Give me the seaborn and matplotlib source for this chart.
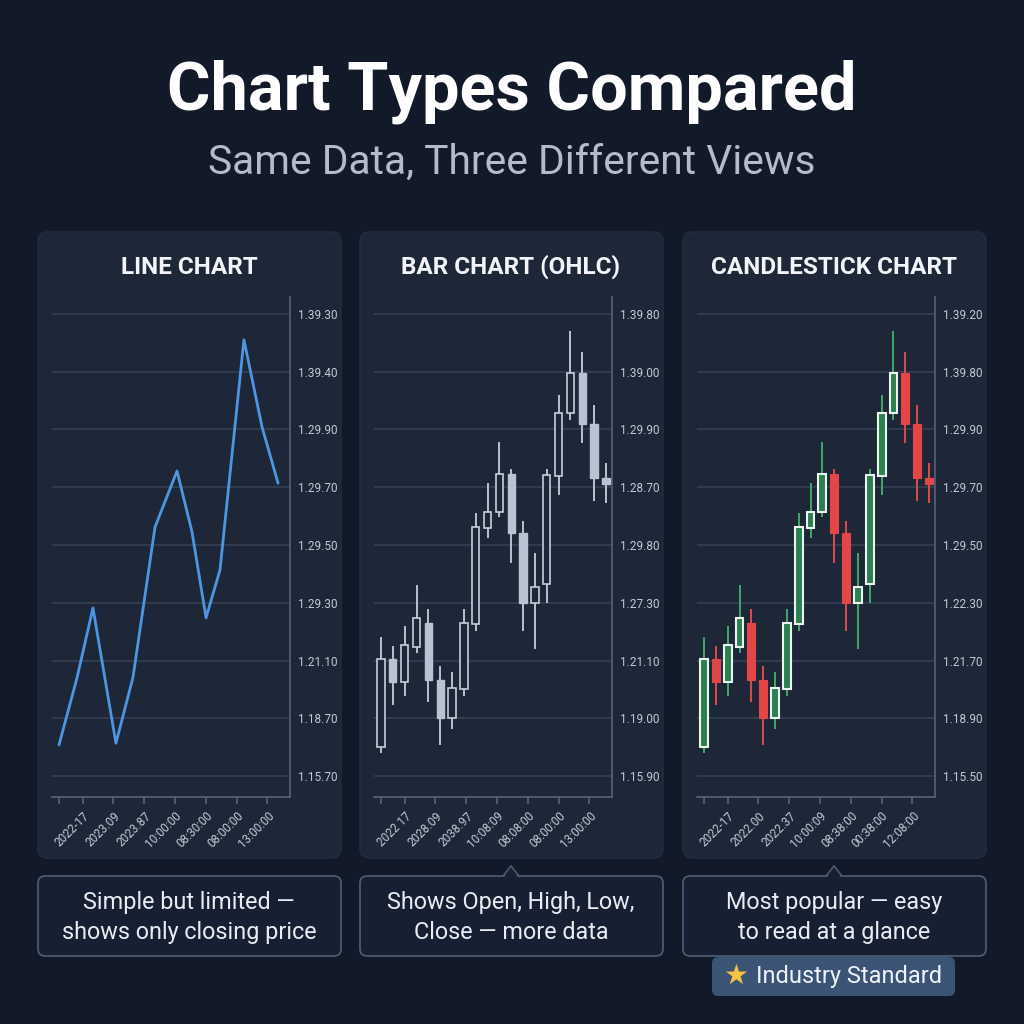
import numpy as np
import pandas as pd
import seaborn as sns
import matplotlib
matplotlib.use("Agg")
import matplotlib.pyplot as plt
from matplotlib.patches import FancyBboxPatch, Polygon

# ---- data (price in grid units, 0 = bottom gridline) ----
line_x = [0, 1.52, 2.87, 4.81, 6.25, 8.11, 9.97, 11.23, 12.42, 13.60, 15.62, 17.15, 18.50]
line_close = [0.54, 1.70, 2.91, 0.57, 1.71, 4.31, 5.28, 4.23, 2.74, 3.57, 7.55, 6.04, 5.07]

ohlc_open = [0.50, 2.03, 1.63, 2.23, 2.65, 1.66, 1.00, 1.51, 2.63, 4.29,
             4.57, 5.23, 4.21, 3.00, 3.32, 5.19, 6.29, 6.98, 6.10, 5.16]
ohlc_high = [2.41, 2.25, 2.60, 3.31, 2.89, 1.90, 1.80, 2.89, 4.55, 5.07,
             5.78, 5.32, 4.42, 3.86, 5.32, 6.60, 7.71, 7.34, 6.42, 5.42]
ohlc_low = [0.40, 1.23, 1.39, 2.13, 1.28, 0.54, 0.81, 1.39, 2.51, 4.12,
            4.48, 3.69, 2.51, 2.20, 3.00, 4.87, 6.16, 5.77, 4.76, 4.73]
ohlc_close = [2.03, 1.63, 2.27, 2.74, 1.66, 1.00, 1.52, 2.65, 4.31, 4.57,
              5.23, 4.21, 3.00, 3.27, 5.21, 6.29, 6.98, 6.10, 5.16, 5.06]

x_tick_pos = [0, 2.0, 4.6, 7.2, 9.8, 12.4, 15.0, 17.6]
x_labels_line = ["", "2022-17", "2023.09", "2023.87", "10:00:00", "08:30:00", "08:00:00", "13:00:00"]
x_labels_bar = ["", "2022 17", "2028.09", "2038.97", "10:08:09", "08:08:00", "08:00:00", "13:00:00"]
x_labels_candle = ["", "2022-17", "2022.00", "2022.37", "10:00:09", "08:38:00", "00:38:00", "12:08:00"]

y_labels_line = ["1.15.70", "1.18.70", "1.21.10", "1.29.30", "1.29.50", "1.29.70", "1.29.90", "1.39.40", "1.39.30"]
y_labels_bar = ["1.15.90", "1.19.00", "1.21.10", "1.27.30", "1.29.80", "1.28.70", "1.29.90", "1.39.00", "1.39.80"]
y_labels_candle = ["1.15.50", "1.18.90", "1.21.70", "1.22.30", "1.29.50", "1.29.70", "1.29.90", "1.39.80", "1.39.20"]

panel_titles = ["LINE CHART", "BAR CHART (OHLC)", "CANDLESTICK CHART"]
captions = ["Simple but limited —\nshows only closing price",
            "Shows Open, High, Low,\nClose — more data",
            "Most popular — easy\nto read at a glance"]

# ---- style ----
BG = "#121a29"
PANEL = "#1d2738"
GRID = "#364256"
SPINE = "#56637a"
TXT = "#f2f4f7"
TICK = "#c3cad5"

sns.set_theme(style="dark")
plt.rcParams["font.family"] = ["Roboto", "DejaVu Sans"]

fig = plt.figure(figsize=(10.24, 10.24), dpi=100, facecolor=BG)
W = H = 1024.0


def fx(px):
    return px / W


def fy(py):
    return 1 - py / H


fig.text(0.5, fy(92), "Chart Types Compared", ha="center", va="center",
         fontsize=48, fontweight="bold", color="#ffffff")
fig.text(0.5, fy(162), "Same Data, Three Different Views", ha="center", va="center",
         fontsize=29.3, color="#b4bcc8")

panel_left = [38, 360, 683]
axes_left = [52, 374, 697]
for i in range(3):
    x0 = panel_left[i]
    fig.patches.append(FancyBboxPatch((fx(x0), fy(858)), fx(303), 626 / H,
                                      boxstyle="round,pad=0,rounding_size=0.009",
                                      transform=fig.transFigure, facecolor=PANEL,
                                      edgecolor="#232e40", linewidth=1.0, zorder=-2))
    fig.text(fx(x0 + 151), fy(267), panel_titles[i], ha="center", va="center",
             fontsize=17.5, fontweight="bold", color=TXT)
    # caption box
    fig.patches.append(FancyBboxPatch((fx(x0), fy(956)), fx(303), 80 / H,
                                      boxstyle="round,pad=0,rounding_size=0.007",
                                      transform=fig.transFigure, facecolor="#172033",
                                      edgecolor="#4b5a70", linewidth=1.3, zorder=-1))
    fig.text(fx(x0 + 151), fy(917.5), captions[i], ha="center", va="center",
             fontsize=16.8, color="#e9edf2", linespacing=1.4)
    if i > 0:
        cx = x0 + 151
        fig.patches.append(Polygon([(fx(cx - 8), fy(876)), (fx(cx + 8), fy(876)), (fx(cx), fy(866))],
                                   closed=True, transform=fig.transFigure,
                                   facecolor="#172033", edgecolor="#4b5a70", linewidth=1.2, zorder=-1))
        fig.patches.append(Polygon([(fx(cx - 7), fy(877.5)), (fx(cx + 7), fy(877.5)), (fx(cx), fy(868))],
                                   closed=True, transform=fig.transFigure,
                                   facecolor="#172033", edgecolor="none", zorder=-1))

# badge
fig.patches.append(FancyBboxPatch((fx(712), fy(996)), fx(243), 39 / H,
                                  boxstyle="round,pad=0,rounding_size=0.006",
                                  transform=fig.transFigure, facecolor="#3b5475",
                                  edgecolor="none", zorder=-1))
fig.text(fx(736), fy(976), "★", ha="center", va="center", fontsize=20,
         color="#f6c343", family=["DejaVu Sans"])
fig.text(fx(756), fy(976), "Industry Standard", ha="left", va="center",
         fontsize=17, color="#eef2f7")


def setup_axes(left, ylabels, xlabels):
    ax = fig.add_axes([fx(left), fy(797), fx(238), 500 / H])
    ax.set_zorder(5)
    ax.set_facecolor("none")
    ax.set_xlim(-0.59, 19.51)
    ax.set_ylim(-0.36, 8.29)
    for s in ["top", "left"]:
        ax.spines[s].set_visible(False)
    for s in ["right", "bottom"]:
        ax.spines[s].set_visible(True)
        ax.spines[s].set_color(SPINE)
        ax.spines[s].set_linewidth(1.2)
    ax.set_yticks(range(9))
    ax.set_yticklabels(ylabels)
    ax.yaxis.tick_right()
    ax.tick_params(axis="y", length=0, pad=6, labelsize=8.5, labelcolor=TICK)
    ax.set_xticks(x_tick_pos)
    ax.set_xticklabels(xlabels, rotation=45, ha="right", rotation_mode="anchor")
    ax.tick_params(axis="x", length=5, width=1.2, color=SPINE, bottom=True,
                   labelsize=8.5, labelcolor=TICK, pad=4)
    ax.grid(False)
    for k in range(9):
        ax.axhline(k, color=GRID, linewidth=1.1, zorder=0)
    ax.set_xlabel("")
    ax.set_ylabel("")
    return ax


# line chart
ax1 = setup_axes(axes_left[0], y_labels_line, x_labels_line)
df_line = pd.DataFrame({"x": line_x, "close": line_close})
sns.lineplot(data=df_line, x="x", y="close", ax=ax1, color="#4d96e3", linewidth=2.0, zorder=3)
ax1.set_xlabel("")
ax1.set_ylabel("")

df = pd.DataFrame({"open": ohlc_open, "high": ohlc_high, "low": ohlc_low, "close": ohlc_close})
df["idx"] = np.arange(len(df))
df["up"] = df["close"] >= df["open"]
df["bottom"] = df[["open", "close"]].min(axis=1)
df["height"] = (df["close"] - df["open"]).abs()
up = df[df["up"]]
dn = df[~df["up"]]

# bar chart (OHLC style as in reference)
ax2 = setup_axes(axes_left[1], y_labels_bar, x_labels_bar)
ax2.vlines(df["idx"], df["low"], df["high"], color="#c6ceda", linewidth=1.3, zorder=2)
ax2.bar(up["idx"], up["height"], bottom=up["bottom"], width=0.62,
        facecolor=PANEL, edgecolor="#c6ceda", linewidth=1.2, zorder=3)
ax2.bar(dn["idx"], dn["height"], bottom=dn["bottom"], width=0.62,
        facecolor="#b9c3d1", edgecolor="#b9c3d1", linewidth=1.0, zorder=3)

# candlestick chart
ax3 = setup_axes(axes_left[2], y_labels_candle, x_labels_candle)
ax3.vlines(up["idx"], up["low"], up["high"], color="#3fa86c", linewidth=1.4, zorder=2)
ax3.vlines(dn["idx"], dn["low"], dn["high"], color="#e04a4a", linewidth=1.4, zorder=2)
ax3.bar(up["idx"], up["height"], bottom=up["bottom"], width=0.66,
        facecolor="#2b8050", edgecolor="#eaf3ee", linewidth=1.5, zorder=3)
ax3.bar(dn["idx"], dn["height"], bottom=dn["bottom"], width=0.66,
        facecolor="#e24646", edgecolor="#e24646", linewidth=0.8, zorder=3)

fig.savefig("out.png", dpi=100, facecolor=BG)
